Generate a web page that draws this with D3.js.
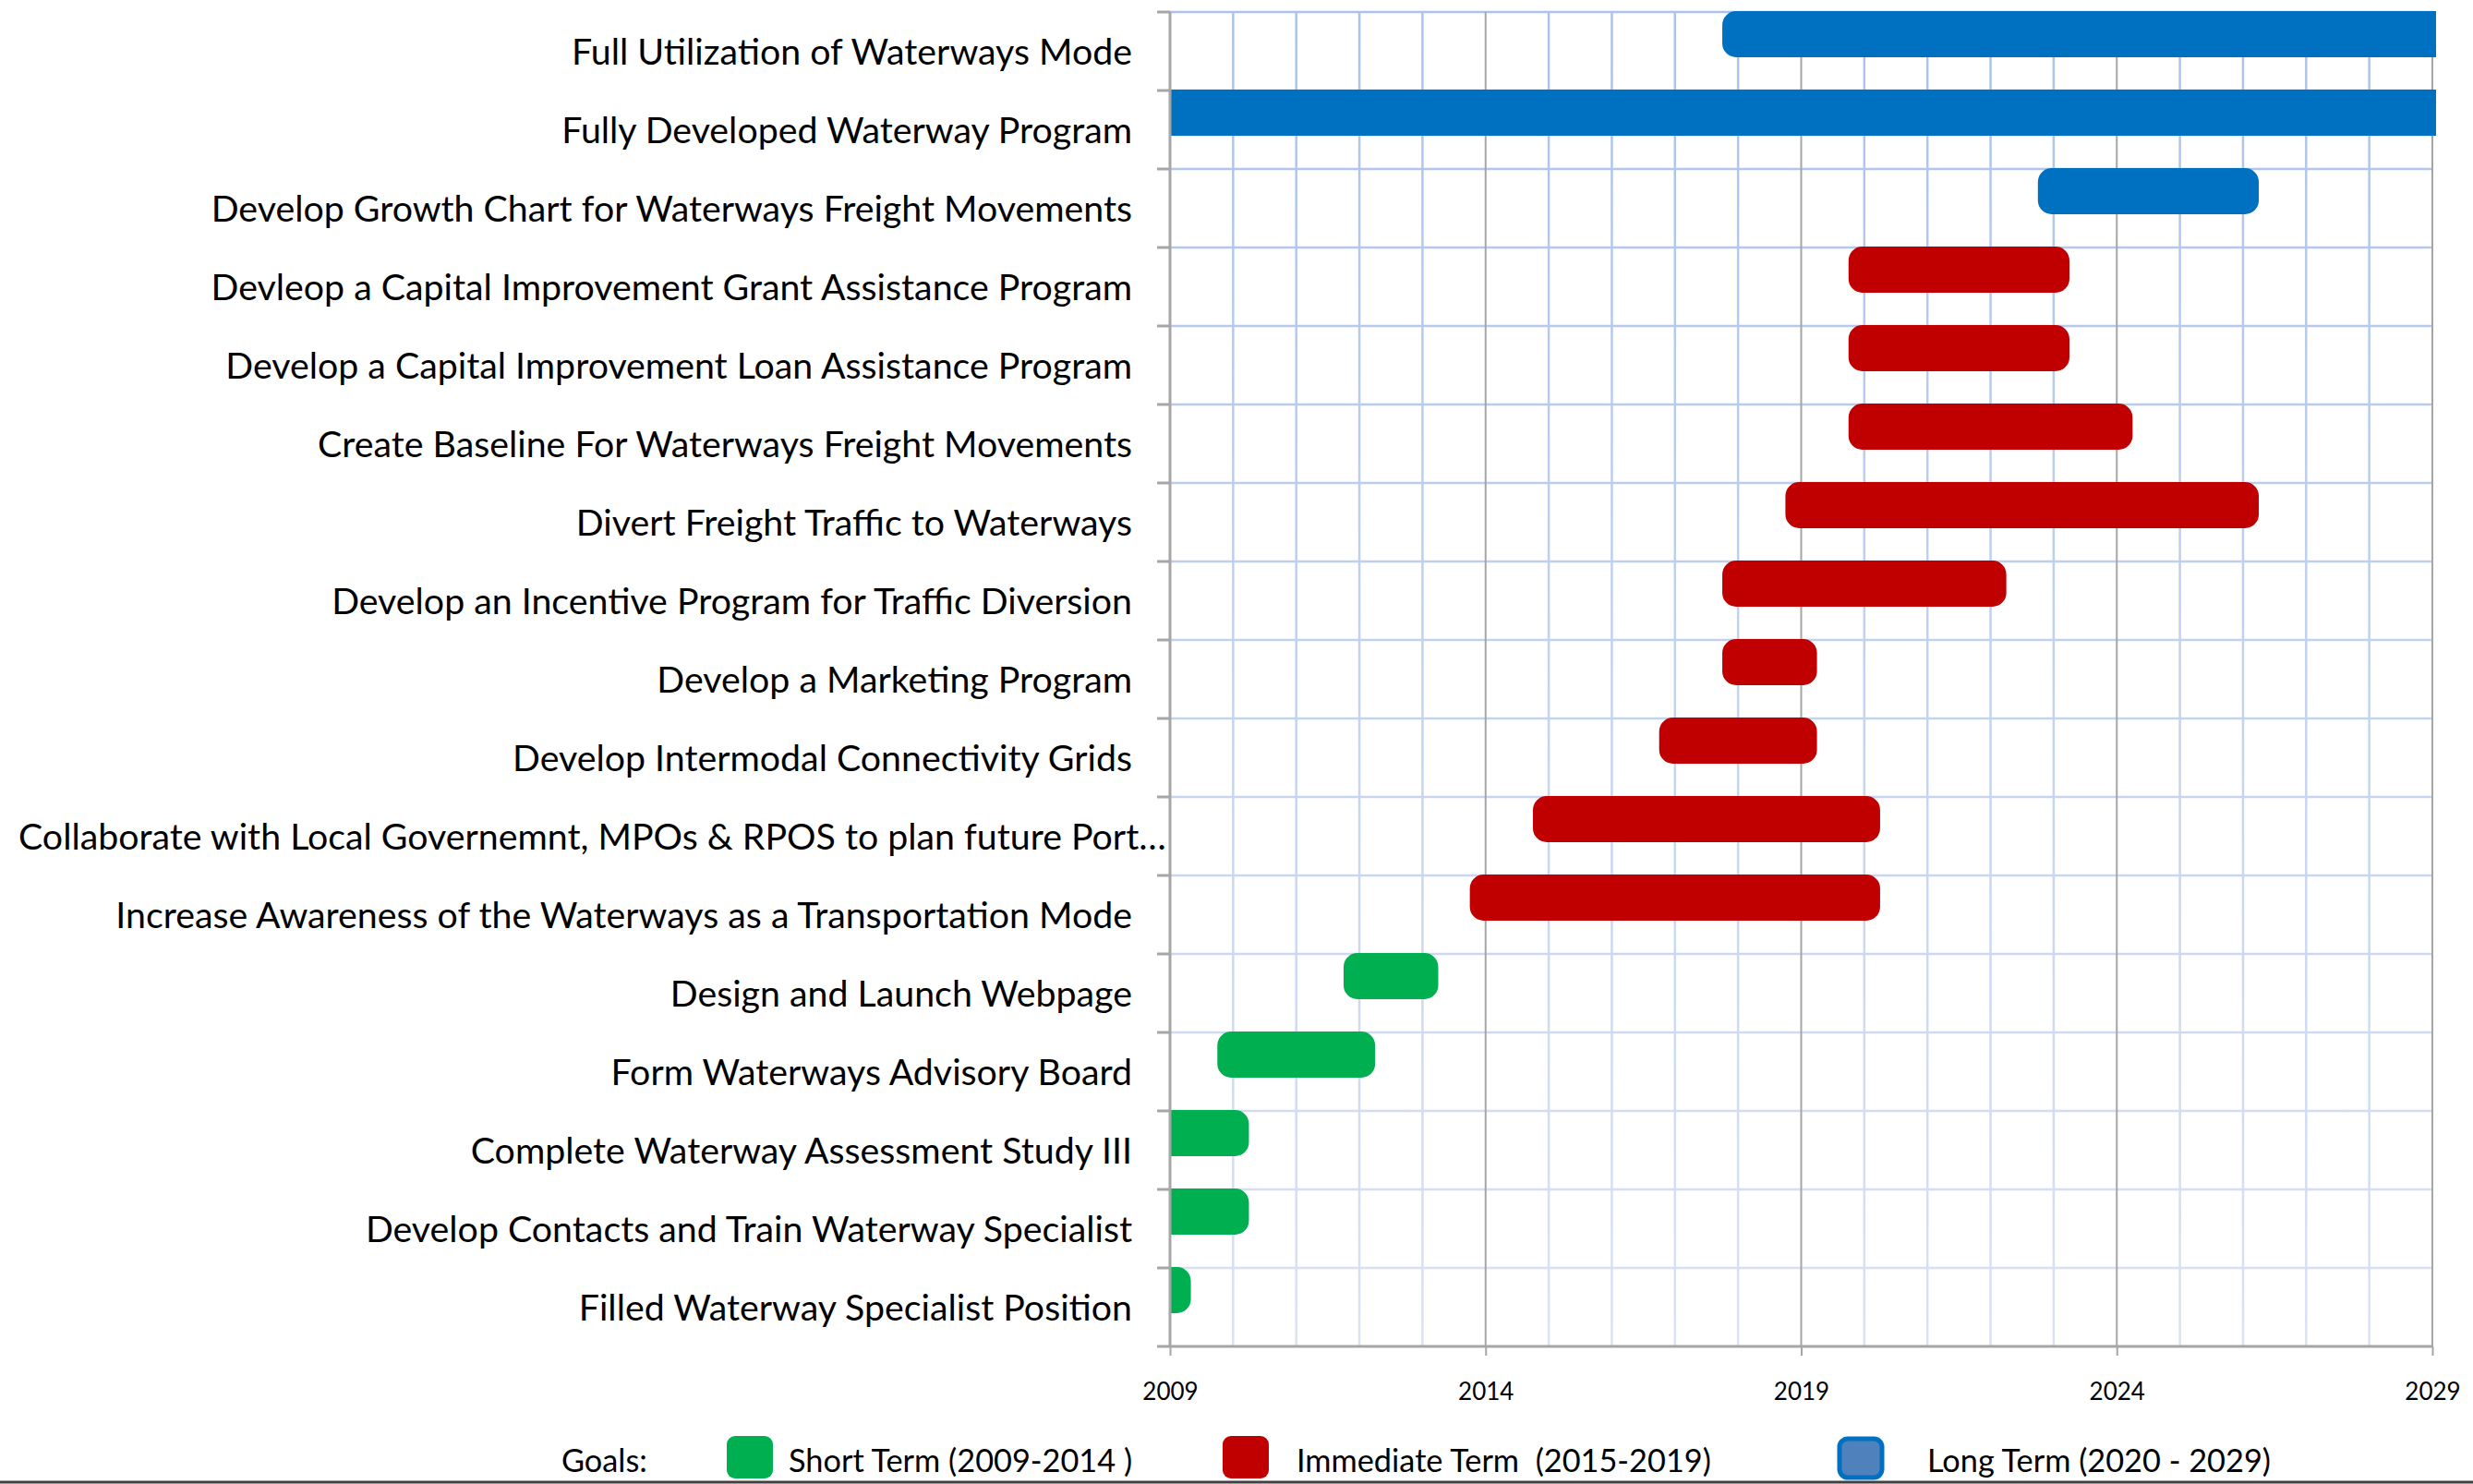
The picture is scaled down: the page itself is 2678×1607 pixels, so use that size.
<!DOCTYPE html>
<html>
<head>
<meta charset="utf-8">
<script src="https://cdn.jsdelivr.net/npm/d3@7"></script>
<style>
  body { margin: 0; background: #fff; }
  text { font-family: Lato, "Open Sans", sans-serif; fill: #000; }
</style>
</head>
<body>
<script>
// Task names, top to bottom
const tasks = [
  'Full Utilization of Waterways Mode',
  'Fully Developed Waterway Program',
  'Develop Growth Chart for Waterways Freight Movements',
  'Devleop a Capital Improvement Grant Assistance Program',
  'Develop a Capital Improvement Loan Assistance Program',
  'Create Baseline For Waterways Freight Movements',
  'Divert Freight Traffic to Waterways',
  'Develop an Incentive Program for Traffic Diversion',
  'Develop a Marketing Program',
  'Develop Intermodal Connectivity Grids',
  'Collaborate with Local Governemnt, MPOs & RPOS to plan future Port…',
  'Increase Awareness of the Waterways as a Transportation Mode',
  'Design and Launch Webpage',
  'Form Waterways Advisory Board',
  'Complete Waterway Assessment Study III',
  'Develop Contacts and Train Waterway Specialist',
  'Filled Waterway Specialist Position',
];
const starts = [2017.75, 2009, 2022.75, 2019.75, 2019.75, 2019.75, 2018.75, 2017.75, 2017.75, 2016.75,
  2014.75, 2013.75, 2011.75, 2009.75, 2009, 2009, 2009];
const ends = [2029, 2029, 2026.25, 2023.25, 2023.25, 2024.25, 2026.25, 2022.25, 2019.25, 2019.25,
  2020.25, 2020.25, 2013.25, 2012.25, 2010.25, 2010.25, 2009.33];
const terms = ['long', 'long', 'long', 'imm', 'imm', 'imm', 'imm', 'imm', 'imm', 'imm',
  'imm', 'imm', 'short', 'short', 'short', 'short', 'short'];
const yearTicks = [2009, 2014, 2019, 2024, 2029];
const legendKeys = ['short', 'imm', 'long'];
const legendLabels = ['Short Term (2009-2014 )', 'Immediate Term  (2015-2019)', 'Long Term (2020 - 2029)'];

const colors = { short: '#00b050', imm: '#c00000', long: '#0070c0' };

const width = 2678;
const height = 1607;
const margin = { top: 13, right: 44, bottom: 149, left: 1267 };

const svg = d3.select('body').append('svg')
  .attr('width', width)
  .attr('height', height);

svg.append('rect').attr('width', width).attr('height', height).attr('fill', '#fff');

const x = d3.scaleLinear()
  .domain([2009, 2029])
  .range([margin.left, width - margin.right]);

const y = d3.scaleBand()
  .domain(tasks)
  .range([margin.top, height - margin.bottom]);

const [x0, x1] = x.range();
const [y0, y1] = y.range();

// gridline colour fades from top to bottom
const defs = svg.append('defs');
const grad = defs.append('linearGradient')
  .attr('id', 'gridGrad')
  .attr('gradientUnits', 'userSpaceOnUse')
  .attr('x1', 0).attr('x2', 0).attr('y1', y0).attr('y2', y1);
grad.append('stop').attr('offset', '0%').attr('stop-color', '#abc2ea');
grad.append('stop').attr('offset', '100%').attr('stop-color', '#dae2f3');

const grid = svg.append('g');
const years = d3.range(2010, 2029);
grid.selectAll('.vgrid')
  .data(years.filter(d => !yearTicks.includes(d)))
  .enter().append('line')
  .attr('x1', d => x(d)).attr('x2', d => x(d))
  .attr('y1', y0).attr('y2', y1)
  .attr('stroke', 'url(#gridGrad)')
  .attr('stroke-width', 2.5);

grid.selectAll('.hgrid')
  .data(tasks)
  .enter().append('line')
  .attr('x1', x0).attr('x2', x1)
  .attr('y1', d => y(d)).attr('y2', d => y(d))
  .attr('stroke', 'url(#gridGrad)')
  .attr('stroke-width', 2.5);

// major years in grey
grid.selectAll('.major')
  .data(yearTicks.slice(1))
  .enter().append('line')
  .attr('x1', d => x(d)).attr('x2', d => x(d))
  .attr('y1', y0).attr('y2', y1)
  .attr('stroke', '#a6a6a6')
  .attr('stroke-width', 2);

// rounded bar, square where it meets the ends of the axis
function barPath(a, b, top, h, r) {
  const rl = a > x.domain()[0] ? r : 0;
  const rr = b < x.domain()[1] ? r : 0;
  const xa = x(a);
  const xb = rr ? x(b) : x(b) + 4;
  const yb = top + h;
  return `M${xa + rl},${top}H${xb - rr}`
    + (rr ? `A${rr},${rr} 0 0 1 ${xb},${top + rr}V${yb - rr}A${rr},${rr} 0 0 1 ${xb - rr},${yb}` : `V${yb}`)
    + `H${xa + rl}`
    + (rl ? `A${rl},${rl} 0 0 1 ${xa},${yb - rl}V${top + rl}A${rl},${rl} 0 0 1 ${xa + rl},${top}` : `V${top}`)
    + 'Z';
}

const barH = 50;
svg.append('g').selectAll('path')
  .data(tasks)
  .enter().append('path')
  .attr('d', (d, i) => barPath(starts[i], ends[i], y(d) - 1, barH, 15))
  .attr('fill', (d, i) => colors[terms[i]]);

// left axis line + ticks at band boundaries
const axisG = svg.append('g');
axisG.append('line')
  .attr('x1', x0).attr('x2', x0).attr('y1', y0).attr('y2', y1)
  .attr('stroke', '#a6a6a6').attr('stroke-width', 3);
axisG.selectAll('.ytick')
  .data(tasks)
  .enter().append('line')
  .attr('x1', x0 - 14).attr('x2', x0)
  .attr('y1', d => y(d)).attr('y2', d => y(d))
  .attr('stroke', '#a6a6a6').attr('stroke-width', 3);

// task labels
axisG.selectAll('.ylab')
  .data(tasks)
  .enter().append('text')
  .attr('x', d => (d.endsWith('…') ? 20 : 1226))
  .attr('y', d => y(d) + y.bandwidth() / 2)
  .attr('dy', '0.36em')
  .attr('text-anchor', d => (d.endsWith('…') ? 'start' : 'end'))
  .style('font-size', '39.3px')
  .text(d => d);

// bottom axis
const xAxis = svg.append('g')
  .attr('transform', `translate(0,${y1})`)
  .call(d3.axisBottom(x)
    .tickValues(yearTicks)
    .tickFormat(d3.format('d'))
    .tickSize(10)
    .tickPadding(30)
    .tickSizeOuter(0));
xAxis.select('.domain').remove();
xAxis.append('line')
  .attr('x1', x0 - 14).attr('x2', x1).attr('y1', 0).attr('y2', 0)
  .attr('stroke', '#a6a6a6').attr('stroke-width', 3);
xAxis.selectAll('.tick line').attr('stroke', '#a6a6a6').attr('stroke-width', 2);
xAxis.selectAll('.tick text')
  .style('font-family', 'Lato, sans-serif')
  .style('font-size', '26px')
  .attr('fill', '#000');

// legend
const legY = 1582;
svg.append('text')
  .attr('x', 608).attr('y', legY).attr('dy', '0.36em')
  .style('font-size', '34.3px')
  .text('Goals:');
const legX = [787, 1324, 1990];
const legTextX = [854, 1404, 2087];
const leg = svg.append('g');
legendKeys.forEach((k, i) => {
  if (k === 'long') {
    leg.append('rect')
      .attr('x', legX[i] + 2).attr('y', 1558).attr('width', 46).attr('height', 42)
      .attr('rx', 9)
      .attr('fill', '#4f81bd').attr('stroke', colors[k]).attr('stroke-width', 5);
  } else {
    leg.append('rect')
      .attr('x', legX[i]).attr('y', 1555).attr('width', 50).attr('height', 46)
      .attr('rx', 9)
      .attr('fill', colors[k]);
  }
  leg.append('text')
    .attr('x', legTextX[i]).attr('y', legY).attr('dy', '0.36em')
    .style('font-size', '34.3px')
    .style('white-space', 'pre')
    .text(legendLabels[i]);
});

// border line at the bottom
svg.append('line')
  .attr('x1', 0).attr('x2', width).attr('y1', 1605).attr('y2', 1605)
  .attr('stroke', '#404040').attr('stroke-width', 3);
</script>
</body>
</html>
